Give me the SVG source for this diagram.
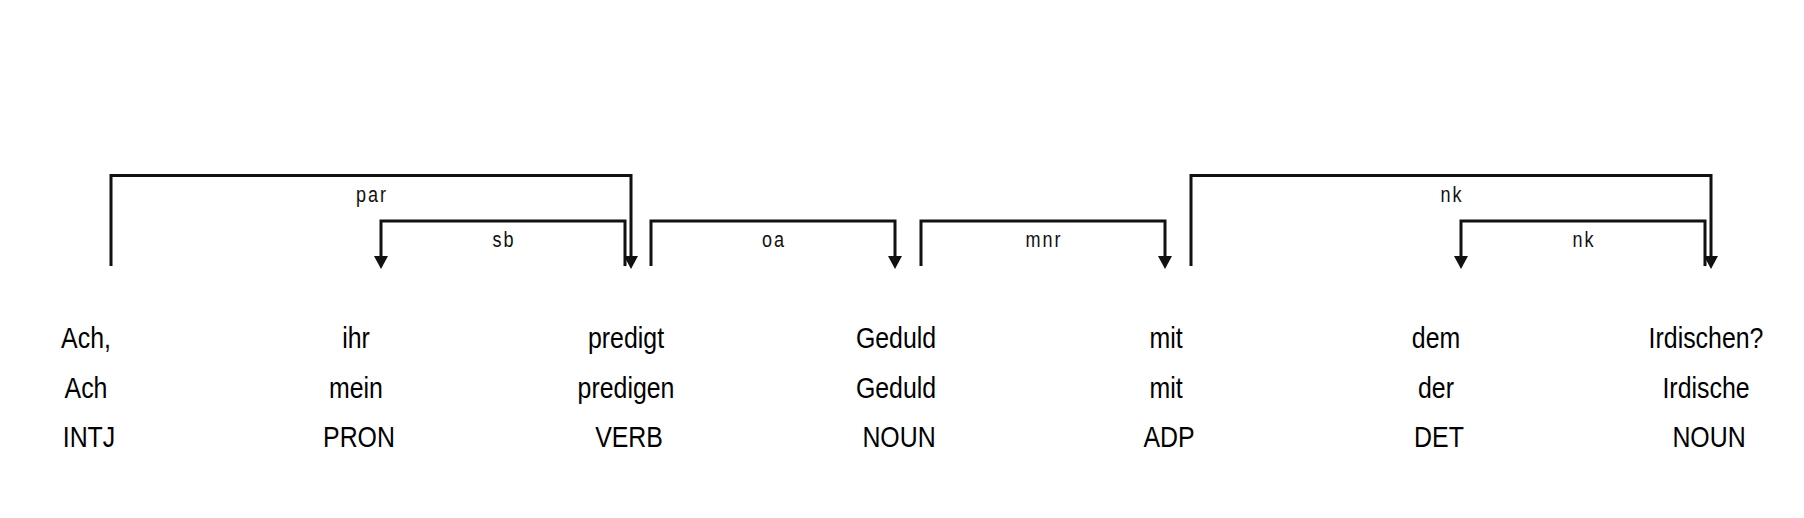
<svg xmlns="http://www.w3.org/2000/svg" width="1804" height="518" viewBox="0 0 1804 518">
<style>
.w{font-family:"Liberation Sans",Arial,sans-serif;font-size:30px;fill:#000;text-anchor:middle}
.lab{font-family:"Liberation Sans",Arial,sans-serif;font-size:22px;fill:#111;text-anchor:middle;letter-spacing:2.5px}
.arc{fill:none;stroke:#111;stroke-width:3;stroke-linejoin:miter}
</style>
<defs>
<marker id="arrow" markerUnits="userSpaceOnUse" viewBox="0 0 13 14" refX="0" refY="7" markerWidth="13" markerHeight="14" orient="auto">
<path d="M0,0 L13,7 L0,14 z" fill="#111"/>
</marker>
</defs>
<rect width="1804" height="518" fill="#fff"/>
<g id="connectors">
<path class="arc" d="M111,266 V175.5 H631 V256" marker-end="url(#arrow)"/>
<path class="arc" d="M625,266 V221 H381 V256" marker-end="url(#arrow)"/>
<path class="arc" d="M651,266 V221 H895 V256" marker-end="url(#arrow)"/>
<path class="arc" d="M921,266 V221 H1165 V256" marker-end="url(#arrow)"/>
<path class="arc" d="M1191,266 V175.5 H1711 V256" marker-end="url(#arrow)"/>
<path class="arc" d="M1705,266 V221 H1461 V256" marker-end="url(#arrow)"/>
<text class="lab" transform="translate(372 202) scale(0.82 1)">par</text>
<text class="lab" transform="translate(504 247) scale(0.82 1)">sb</text>
<text class="lab" transform="translate(774 247) scale(0.82 1)">oa</text>
<text class="lab" transform="translate(1044 247) scale(0.82 1)">mnr</text>
<text class="lab" transform="translate(1452 202) scale(0.82 1)">nk</text>
<text class="lab" transform="translate(1584 247) scale(0.82 1)">nk</text>
</g>
<g id="node-0"><text class="w" transform="translate(86 348) scale(0.83 1)">Ach,</text><text class="w" transform="translate(86 398) scale(0.83 1)">Ach</text><text class="w" transform="translate(89 447) scale(0.83 1)">INTJ</text></g>
<g id="node-1"><text class="w" transform="translate(356 348) scale(0.83 1)">ihr</text><text class="w" transform="translate(356 398) scale(0.83 1)">mein</text><text class="w" transform="translate(359 447) scale(0.83 1)">PRON</text></g>
<g id="node-2"><text class="w" transform="translate(626 348) scale(0.83 1)">predigt</text><text class="w" transform="translate(626 398) scale(0.83 1)">predigen</text><text class="w" transform="translate(629 447) scale(0.83 1)">VERB</text></g>
<g id="node-3"><text class="w" transform="translate(896 348) scale(0.83 1)">Geduld</text><text class="w" transform="translate(896 398) scale(0.83 1)">Geduld</text><text class="w" transform="translate(899 447) scale(0.83 1)">NOUN</text></g>
<g id="node-4"><text class="w" transform="translate(1166 348) scale(0.83 1)">mit</text><text class="w" transform="translate(1166 398) scale(0.83 1)">mit</text><text class="w" transform="translate(1169 447) scale(0.83 1)">ADP</text></g>
<g id="node-5"><text class="w" transform="translate(1436 348) scale(0.83 1)">dem</text><text class="w" transform="translate(1436 398) scale(0.83 1)">der</text><text class="w" transform="translate(1439 447) scale(0.83 1)">DET</text></g>
<g id="node-6"><text class="w" transform="translate(1706 348) scale(0.83 1)">Irdischen?</text><text class="w" transform="translate(1706 398) scale(0.83 1)">Irdische</text><text class="w" transform="translate(1709 447) scale(0.83 1)">NOUN</text></g>
</svg>
